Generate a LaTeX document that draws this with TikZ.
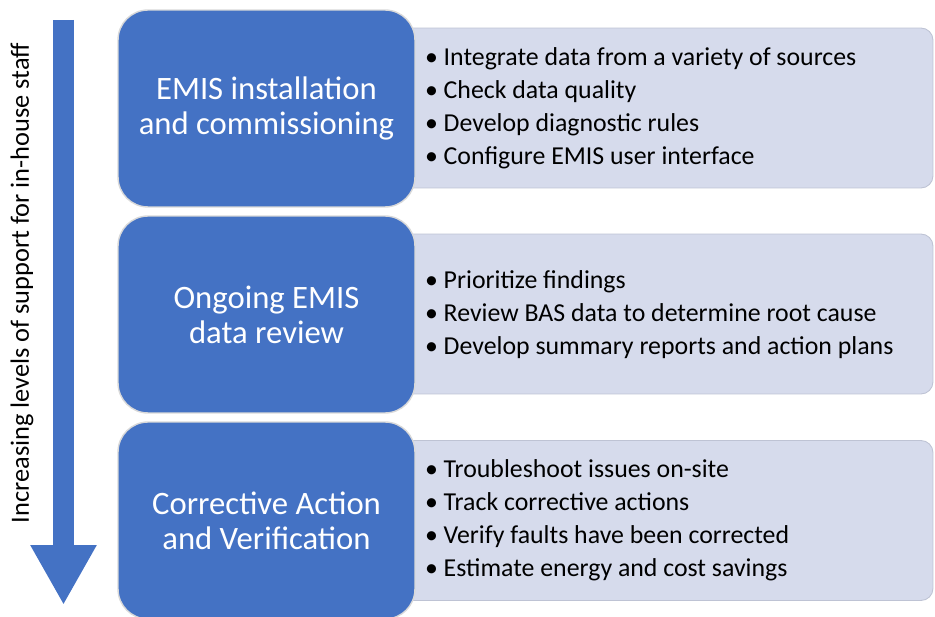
\documentclass[tikz,border=0pt]{standalone}
\usepackage{fontspec}
\setmainfont{Carlito}
\usepackage{tikz}
\usetikzlibrary{arrows.meta, positioning}

\definecolor{stageblue}{RGB}{68,114,196}
\definecolor{listgray}{RGB}{214,219,236}
\definecolor{listedge}{RGB}{190,195,212}

\begin{document}
\begin{tikzpicture}[
    x=0.02cm, y=-0.02cm,
    stage/.style={rectangle, rounded corners=0.6cm, draw=white!85!black, line width=0.8pt, fill=stageblue, text=white, minimum width=5.94cm, minimum height=3.94cm, align=center, font=\fontsize{18.6}{20}\selectfont},
    panel/.style={rectangle, rounded corners=0.24cm, draw=listedge, line width=0.5pt, fill=listgray, minimum width=11.86cm, minimum height=3.2cm},
    items/.style={align=left, inner sep=0pt, anchor=west, font=\fontsize{14.7}{18.8}\selectfont},
    bigarrow/.style={line width=0.42cm, stageblue, -{Triangle[length=1.2cm, width=1.24cm]}},
    node distance=0.18cm
]
\clip (0,0) rectangle (935,617);

% Arrow and side label
\coordinate (arrtop) at (63.5,20);
\coordinate (arrtip) at (63.5,605);
\draw[bigarrow] (arrtop) -- (arrtip);
\node[rotate=90, font=\fontsize{15}{18}\selectfont] (support) at (22,283) {Increasing levels of support for in-house staff};

% Panels behind the stages
\node[panel] (list1) at (636.5,108) {};
\node[panel] (list2) at (636.5,314) {};
\node[panel] (list3) at (636.5,520.5) {};

% Stages
\node[stage] (install) at (266.5,108.5) {EMIS installation\\and commissioning};
\node[stage] (review) at (266.5,314.5) {Ongoing EMIS\\data review};
\node[stage] (action) at (266.5,520.5) {Corrective Action\\and Verification};

% Tasks
\node[items, right=of install] (tasks1) {\textbullet\ Integrate data from a variety of sources\\
  \textbullet\ Check data quality\\
  \textbullet\ Develop diagnostic rules\\
  \textbullet\ Configure EMIS user interface};
\node[items, right=of review] (tasks2) {\textbullet\ Prioritize findings\\
  \textbullet\ Review BAS data to determine root cause\\
  \textbullet\ Develop summary reports and action plans};
\node[items, right=of action] (tasks3) {\textbullet\ Troubleshoot issues on-site\\
  \textbullet\ Track corrective actions\\
  \textbullet\ Verify faults have been corrected\\
  \textbullet\ Estimate energy and cost savings};

\end{tikzpicture}
\end{document}
